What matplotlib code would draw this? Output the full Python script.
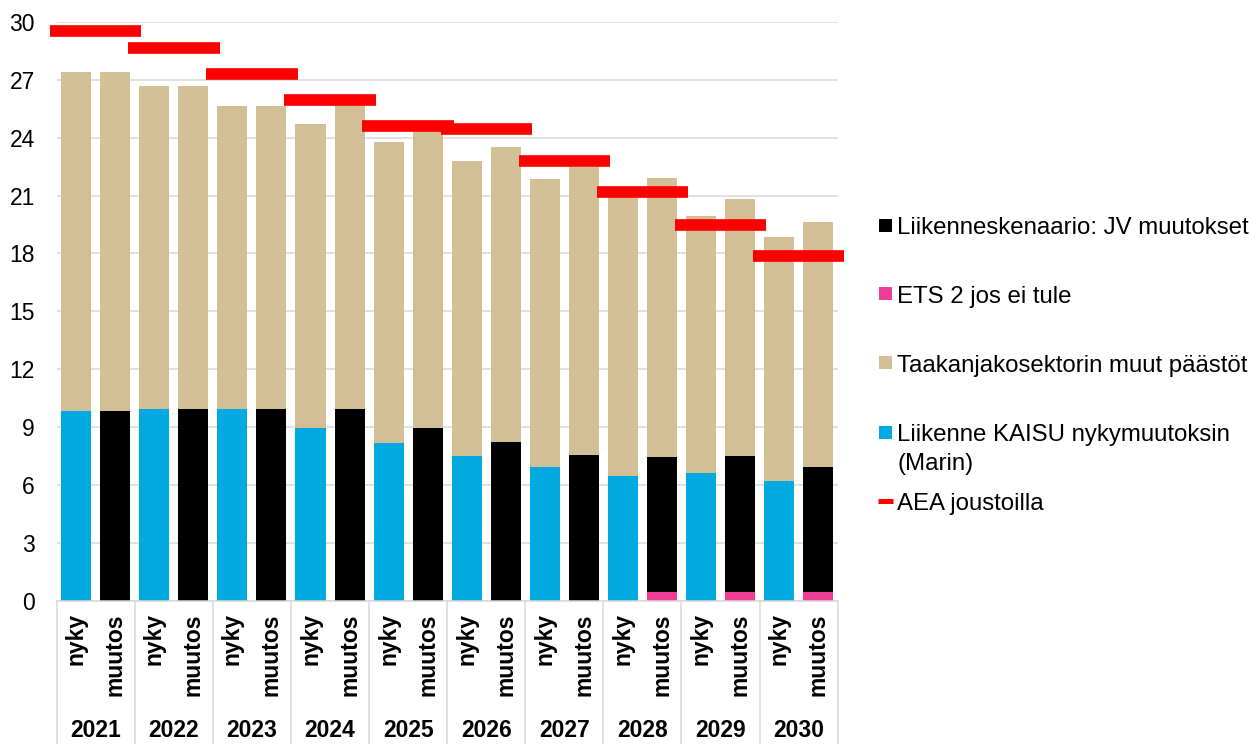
import matplotlib
matplotlib.use('Agg')
import matplotlib.pyplot as plt
import matplotlib.transforms as mtransforms
from matplotlib.patches import Rectangle
from matplotlib.lines import Line2D
import numpy as np

plt.rcParams['font.family'] = ['Liberation Sans', 'DejaVu Sans']

# data (Mt CO2-ekv)
years = ['2021', '2022', '2023', '2024', '2025', '2026', '2027', '2028', '2029', '2030']
scenarios = ['nyky', 'muutos']
nyky_liikenne = [9.84, 9.93, 9.93, 8.96, 8.16, 7.51, 6.93, 6.46, 6.64, 6.19]
nyky_muut = [17.58, 16.73, 15.73, 15.77, 15.63, 15.30, 14.93, 14.46, 13.31, 12.68]
muutos_ets2 = [0, 0, 0, 0, 0, 0, 0, 0.45, 0.45, 0.45]
muutos_liikenne = [9.84, 9.93, 9.93, 9.93, 8.96, 8.22, 7.53, 6.99, 7.04, 6.48]
muutos_muut = [17.58, 16.73, 15.73, 15.77, 15.63, 15.32, 14.93, 14.46, 13.33, 12.68]
aea = [29.54, 28.65, 27.30, 25.96, 24.61, 24.43, 22.81, 21.17, 19.50, 17.86]

c_blue = '#00A9E0'
c_black = '#000000'
c_pink = '#EE3E98'
c_tan = '#D3BF96'
c_red = '#FF0000'
c_grid = '#D9D9D9'
fs = 16.5
fs_leg = 17.3

fig = plt.figure(figsize=(12.57, 7.44), dpi=100)
ax = fig.add_axes([0.0451, 0.1926, 0.6213, 0.7778])

n = len(years)
x_nyky = np.arange(n) * 2
x_muutos = x_nyky + 1
w = 0.77

# nyky bars
ax.bar(x_nyky, nyky_liikenne, w, color=c_blue, zorder=2)
ax.bar(x_nyky, nyky_muut, w, bottom=nyky_liikenne, color=c_tan, zorder=2)

# muutos bars
ets = np.array(muutos_ets2)
liik = np.array(muutos_liikenne)
ax.bar(x_muutos, ets, w, color=c_pink, zorder=2)
ax.bar(x_muutos, liik, w, bottom=ets, color=c_black, zorder=2)
ax.bar(x_muutos, muutos_muut, w, bottom=ets + liik, color=c_tan, zorder=2)

# AEA target lines, centred on each year pair
centers = x_nyky + 0.5
ax.hlines(aea, centers - 1.17, centers + 1.17, color=c_red, linewidth=8.4,
          zorder=3, clip_on=False, capstyle='butt')

ax.set_xlim(-0.5, 2 * n - 0.5)
ax.set_ylim(0, 30)
ax.set_yticks(np.arange(0, 31, 3))
ax.yaxis.grid(True, color=c_grid, linewidth=1.1)
ax.set_axisbelow(True)
ax.tick_params(axis='y', length=0, labelsize=fs, pad=15.6)

for s in ['top', 'right', 'left']:
    ax.spines[s].set_visible(False)
ax.spines['bottom'].set_color(c_grid)
ax.spines['bottom'].set_linewidth(1.1)

# two-level category axis
xt = np.empty(2 * n)
xt[0::2] = x_nyky
xt[1::2] = x_muutos
ax.set_xticks(xt)
ax.set_xticklabels(scenarios * n, rotation=90, fontsize=fs, fontweight='bold')
ax.tick_params(axis='x', length=0, pad=9)

trans = mtransforms.blended_transform_factory(ax.transData, ax.transAxes)
for i, yr in enumerate(years):
    ax.text(centers[i], -0.225, yr, transform=trans, ha='center', va='center',
            fontsize=fs, fontweight='bold')
for k in range(n + 1):
    ax.plot([2 * k - 0.5, 2 * k - 0.5], [0, -0.25], transform=trans,
            color=c_grid, linewidth=1.1, clip_on=False)

# legend drawn by hand to match spacing
W, H = 1257, 744
entries = [
    ('Liikenneskenaario: JV muutokset', c_black, 225),
    ('ETS 2 jos ei tule', c_pink, 294),
    ('Taakanjakosektorin muut päästöt', c_tan, 363),
    ('Liikenne KAISU nykymuutoksin', c_blue, 432),
]
half_cap = 8.6
for label, col, yc in entries:
    fig.patches.append(Rectangle(((879) / W, 1 - (yc + 6.5) / H), 13 / W, 13 / H,
                                 transform=fig.transFigure, facecolor=col,
                                 edgecolor='none'))
    fig.text(897 / W, 1 - (yc + half_cap) / H, label, fontsize=fs_leg, va='baseline')
fig.text(897 / W, 1 - (461 + half_cap) / H, '(Marin)', fontsize=fs_leg, va='baseline')
fig.add_artist(Line2D([878 / W, 893 / W], [1 - 501 / H, 1 - 501 / H],
                      transform=fig.transFigure, color=c_red, linewidth=3.6,
                      solid_capstyle='butt'))
fig.text(897 / W, 1 - (501 + half_cap) / H, 'AEA joustoilla', fontsize=fs_leg, va='baseline')

fig.savefig('out.png', dpi=100)
